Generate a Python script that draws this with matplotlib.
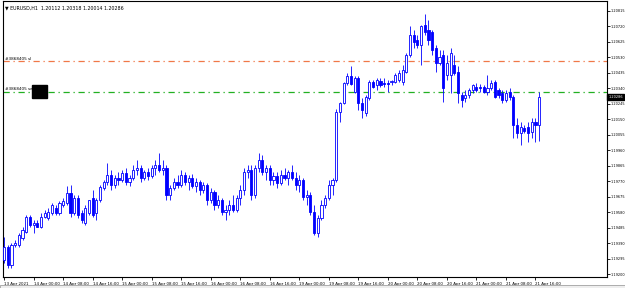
#!/usr/bin/env python3
"""
EURUSD H1 candlestick chart (MT4 style) with SL / entry lines
"""

import numpy as np
import matplotlib.pyplot as plt
from matplotlib.patches import Rectangle
from matplotlib.transforms import blended_transform_factory

symbol = "EURUSD,H1"

# OHLC per hourly bar, 13 Apr 16:00 -> 21 Apr 17:00 (weekend skipped)
open_ = [
    1.19286, 1.19366, 1.19255, 1.19378, 1.19378, 1.19421, 1.19458, 1.19550, 1.19501, 1.19513,
    1.19489, 1.19550, 1.19544, 1.19575, 1.19605, 1.19575, 1.19624, 1.19636, 1.19697, 1.19575,
    1.19667, 1.19575, 1.19513, 1.19575, 1.19667, 1.19575, 1.19654, 1.19728, 1.19765, 1.19808,
    1.19746, 1.19789, 1.19777, 1.19820, 1.19765, 1.19789, 1.19839, 1.19851, 1.19789, 1.19826,
    1.19802, 1.19851, 1.19869, 1.19839, 1.19851, 1.19685, 1.19728, 1.19765, 1.19746, 1.19808,
    1.19765, 1.19789, 1.19740, 1.19765, 1.19716, 1.19746, 1.19654, 1.19703, 1.19624, 1.19654,
    1.19581, 1.19593, 1.19624, 1.19593, 1.19667, 1.19716, 1.19826, 1.19839, 1.19685, 1.19851,
    1.19900, 1.19826, 1.19851, 1.19777, 1.19802, 1.19759, 1.19808, 1.19789, 1.19826, 1.19789,
    1.19746, 1.19777, 1.19673, 1.19685, 1.19581, 1.19452, 1.19544, 1.19624, 1.19667, 1.19746,
    1.19777, 1.20195, 1.20250, 1.20373, 1.20416, 1.20318, 1.20404, 1.20250, 1.20189, 1.20281,
    1.20379, 1.20361, 1.20385, 1.20373, 1.20373, 1.20379, 1.20379, 1.20391, 1.20379, 1.20440,
    1.20545, 1.20668, 1.20637, 1.20606, 1.20729, 1.20698, 1.20686, 1.20588, 1.20496, 1.20545,
    1.20422, 1.20422, 1.20483, 1.20440, 1.20299, 1.20281, 1.20299, 1.20330, 1.20348, 1.20348,
    1.20348, 1.20318, 1.20342, 1.20379, 1.20330, 1.20311, 1.20268, 1.20318, 1.20287, 1.20115,
    1.20066, 1.20097, 1.20103, 1.20072, 1.20133, 1.20112,
]
high = [
    1.19427, 1.19378, 1.19390, 1.19409, 1.19452, 1.19489, 1.19562, 1.19562, 1.19532, 1.19532,
    1.19575, 1.19593, 1.19605, 1.19636, 1.19624, 1.19648, 1.19667, 1.19740, 1.19746, 1.19685,
    1.19685, 1.19593, 1.19624, 1.19654, 1.19716, 1.19667, 1.19746, 1.19777, 1.19882, 1.19839,
    1.19808, 1.19826, 1.19839, 1.19851, 1.19808, 1.19869, 1.19900, 1.19869, 1.19839, 1.19851,
    1.19869, 1.19900, 1.19943, 1.19900, 1.19869, 1.19746, 1.19789, 1.19808, 1.19839, 1.19826,
    1.19808, 1.19814, 1.19789, 1.19777, 1.19765, 1.19759, 1.19728, 1.19716, 1.19685, 1.19667,
    1.19624, 1.19654, 1.19685, 1.19685, 1.19746, 1.19851, 1.19869, 1.19869, 1.19869, 1.19943,
    1.19931, 1.19869, 1.19869, 1.19826, 1.19826, 1.19839, 1.19851, 1.19839, 1.19869, 1.19826,
    1.19808, 1.19789, 1.19716, 1.19703, 1.19624, 1.19562, 1.19654, 1.19685, 1.19777, 1.19789,
    1.20213, 1.20256, 1.20379, 1.20434, 1.20477, 1.20416, 1.20416, 1.20281, 1.20299, 1.20391,
    1.20391, 1.20404, 1.20404, 1.20404, 1.20391, 1.20391, 1.20434, 1.20453, 1.20483, 1.20557,
    1.20723, 1.20698, 1.20668, 1.20729, 1.20797, 1.20760, 1.20698, 1.20606, 1.20576, 1.20576,
    1.20545, 1.20588, 1.20545, 1.20477, 1.20318, 1.20330, 1.20342, 1.20367, 1.20373, 1.20367,
    1.20361, 1.20422, 1.20391, 1.20391, 1.20342, 1.20330, 1.20330, 1.20342, 1.20299, 1.20158,
    1.20133, 1.20115, 1.20133, 1.20158, 1.20158, 1.20318,
]
low = [
    1.19267, 1.19237, 1.19237, 1.19366, 1.19366, 1.19409, 1.19452, 1.19489, 1.19452, 1.19489,
    1.19482, 1.19544, 1.19532, 1.19562, 1.19562, 1.19562, 1.19611, 1.19624, 1.19550, 1.19562,
    1.19544, 1.19513, 1.19501, 1.19562, 1.19550, 1.19532, 1.19642, 1.19716, 1.19746, 1.19716,
    1.19728, 1.19746, 1.19765, 1.19746, 1.19740, 1.19777, 1.19808, 1.19765, 1.19777, 1.19777,
    1.19789, 1.19808, 1.19826, 1.19808, 1.19654, 1.19654, 1.19716, 1.19728, 1.19734, 1.19746,
    1.19716, 1.19728, 1.19703, 1.19685, 1.19697, 1.19624, 1.19636, 1.19593, 1.19605, 1.19562,
    1.19532, 1.19562, 1.19581, 1.19581, 1.19624, 1.19685, 1.19789, 1.19654, 1.19667, 1.19826,
    1.19808, 1.19777, 1.19746, 1.19746, 1.19728, 1.19746, 1.19777, 1.19746, 1.19777, 1.19716,
    1.19703, 1.19654, 1.19624, 1.19562, 1.19439, 1.19427, 1.19532, 1.19605, 1.19654, 1.19685,
    1.19765, 1.20133, 1.20244, 1.20361, 1.20361, 1.20311, 1.20207, 1.20158, 1.20170, 1.20268,
    1.20342, 1.20330, 1.20348, 1.20348, 1.20318, 1.20361, 1.20373, 1.20379, 1.20361, 1.20434,
    1.20533, 1.20588, 1.20588, 1.20483, 1.20668, 1.20606, 1.20545, 1.20440, 1.20483, 1.20256,
    1.20391, 1.20311, 1.20422, 1.20250, 1.20225, 1.20256, 1.20281, 1.20311, 1.20318, 1.20318,
    1.20311, 1.20299, 1.20330, 1.20281, 1.20281, 1.20250, 1.20256, 1.20268, 1.20035, 1.20035,
    1.19992, 1.20066, 1.20011, 1.20035, 1.20011, 1.20014,
]
close = [
    1.19366, 1.19255, 1.19378, 1.19390, 1.19439, 1.19470, 1.19550, 1.19501, 1.19513, 1.19489,
    1.19550, 1.19575, 1.19581, 1.19624, 1.19575, 1.19636, 1.19648, 1.19697, 1.19575, 1.19667,
    1.19562, 1.19532, 1.19605, 1.19654, 1.19562, 1.19654, 1.19734, 1.19765, 1.19808, 1.19746,
    1.19789, 1.19777, 1.19820, 1.19765, 1.19789, 1.19839, 1.19851, 1.19789, 1.19826, 1.19802,
    1.19851, 1.19869, 1.19839, 1.19851, 1.19685, 1.19728, 1.19765, 1.19746, 1.19808, 1.19765,
    1.19789, 1.19740, 1.19765, 1.19716, 1.19746, 1.19654, 1.19703, 1.19624, 1.19654, 1.19581,
    1.19593, 1.19624, 1.19593, 1.19667, 1.19716, 1.19826, 1.19839, 1.19685, 1.19851, 1.19900,
    1.19826, 1.19851, 1.19777, 1.19802, 1.19759, 1.19808, 1.19789, 1.19826, 1.19789, 1.19746,
    1.19777, 1.19673, 1.19685, 1.19581, 1.19452, 1.19544, 1.19624, 1.19667, 1.19746, 1.19777,
    1.20195, 1.20250, 1.20373, 1.20416, 1.20367, 1.20404, 1.20250, 1.20207, 1.20287, 1.20379,
    1.20348, 1.20391, 1.20361, 1.20367, 1.20367, 1.20385, 1.20422, 1.20434, 1.20453, 1.20545,
    1.20668, 1.20625, 1.20606, 1.20723, 1.20686, 1.20637, 1.20576, 1.20496, 1.20533, 1.20342,
    1.20496, 1.20557, 1.20434, 1.20311, 1.20268, 1.20299, 1.20330, 1.20361, 1.20330, 1.20342,
    1.20318, 1.20342, 1.20373, 1.20287, 1.20299, 1.20268, 1.20311, 1.20287, 1.20115, 1.20066,
    1.20103, 1.20078, 1.20066, 1.20133, 1.20115, 1.20286,
]

# time axis labels (bar index -> label)
x_label_bars = [0, 8, 16, 24, 32, 40, 48, 56, 64, 72, 80, 88, 96, 104, 112, 120, 128, 136, 144]
x_labels = [
    "13 Apr 2021", "14 Apr 00:00", "14 Apr 08:00", "14 Apr 16:00",
    "15 Apr 00:00", "15 Apr 08:00", "15 Apr 16:00",
    "16 Apr 00:00", "16 Apr 08:00", "16 Apr 16:00",
    "19 Apr 00:00", "19 Apr 08:00", "19 Apr 16:00",
    "20 Apr 00:00", "20 Apr 08:00", "20 Apr 16:00",
    "21 Apr 00:00", "21 Apr 08:00", "21 Apr 16:00",
]
y_ticks = [1.20815, 1.20720, 1.20625, 1.20530, 1.20435, 1.20340, 1.20245, 1.20150, 1.20055,
           1.19960, 1.19865, 1.19770, 1.19675, 1.19580, 1.19485, 1.19390, 1.19295, 1.19200]

# order lines
sl_level = 1.20506
entry_level = 1.20318
order_id = "#3868405"

BLUE = "#0000FF"


def draw_chart(save_path="out.png"):
    fig = plt.figure(figsize=(6.25, 2.88), dpi=100)
    fig.patch.set_facecolor("white")
    ax = fig.add_axes([3 / 625, 11 / 288, 604 / 625, 276 / 288])

    o = np.array(open_)
    h = np.array(high)
    l = np.array(low)
    c = np.array(close)
    x = np.arange(len(o))
    up = c >= o

    # wicks then bodies (bull = hollow, bear = filled)
    ax.vlines(x, l, h, color=BLUE, linewidth=0.6, zorder=2)
    ax.bar(x, np.maximum(np.abs(c - o), 1e-6), bottom=np.minimum(o, c), width=0.58,
           color=np.where(up, "white", BLUE), edgecolor=BLUE, linewidth=0.6, zorder=3)

    # SL and entry lines
    ax.axhline(sl_level, color="#F07848", linestyle=(0, (5, 3, 1, 3)), linewidth=0.9, zorder=1)
    ax.axhline(entry_level, color="#22B022", linestyle=(0, (5, 3, 1, 3)), linewidth=0.9, zorder=1)
    ax.text(0.3, sl_level + 0.00004, f"{order_id} sl", fontsize=3.0, color="black",
            va="bottom", ha="left")
    ax.text(0.3, entry_level + 0.00004, f"{order_id} sell", fontsize=3.0, color="black",
            va="bottom", ha="left")
    # redacted order box
    ax.add_patch(Rectangle((7.6, entry_level - 0.00037), 4.1, 0.0008,
                           facecolor="black", edgecolor="black", zorder=5))

    ax.set_xlim(-0.3, -0.3 + 604 / 3.69)
    ax.set_ylim(1.19182, 1.20876)

    # axes styling
    ax.yaxis.tick_right()
    ax.set_yticks(y_ticks)
    ax.set_yticklabels([f"{v:.5f}" for v in y_ticks])
    ax.set_xticks(x_label_bars)
    ax.set_xticklabels(x_labels, ha="left")
    ax.tick_params(axis="x", labelsize=2.9, length=2.5, width=0.6, pad=1.0,
                   colors="black", direction="out")
    ax.tick_params(axis="y", labelsize=2.5, length=2.0, width=0.6, pad=0.6,
                   colors="black", direction="out")
    for side in ["left", "right", "bottom", "top"]:
        ax.spines[side].set_color("black")
        ax.spines[side].set_linewidth(0.8)

    # current price label
    trans = blended_transform_factory(ax.transAxes, ax.transData)
    ax.text(1.002, close[-1], f"{close[-1]:.5f}", transform=trans, fontsize=2.5,
            color="white", va="center", ha="left",
            bbox=dict(boxstyle="square,pad=0.35", facecolor="black", edgecolor="black"))

    # header
    header = f"\u25BC {symbol}  {open_[-1]:.5f} {high[-1]:.5f} {low[-1]:.5f} {close[-1]:.5f}"
    ax.text(0.004, 0.985, header, transform=ax.transAxes, fontsize=3.4, va="top", ha="left")

    # tab strip at the bottom of the window
    fig.add_artist(Rectangle((0, 0), 1, 3 / 288, transform=fig.transFigure,
                             facecolor="#EEEEEE", edgecolor="#A0A0A0", linewidth=0.6))

    plt.savefig(save_path, dpi=100, facecolor="white")
    plt.close()
    return save_path


if __name__ == "__main__":
    draw_chart()
